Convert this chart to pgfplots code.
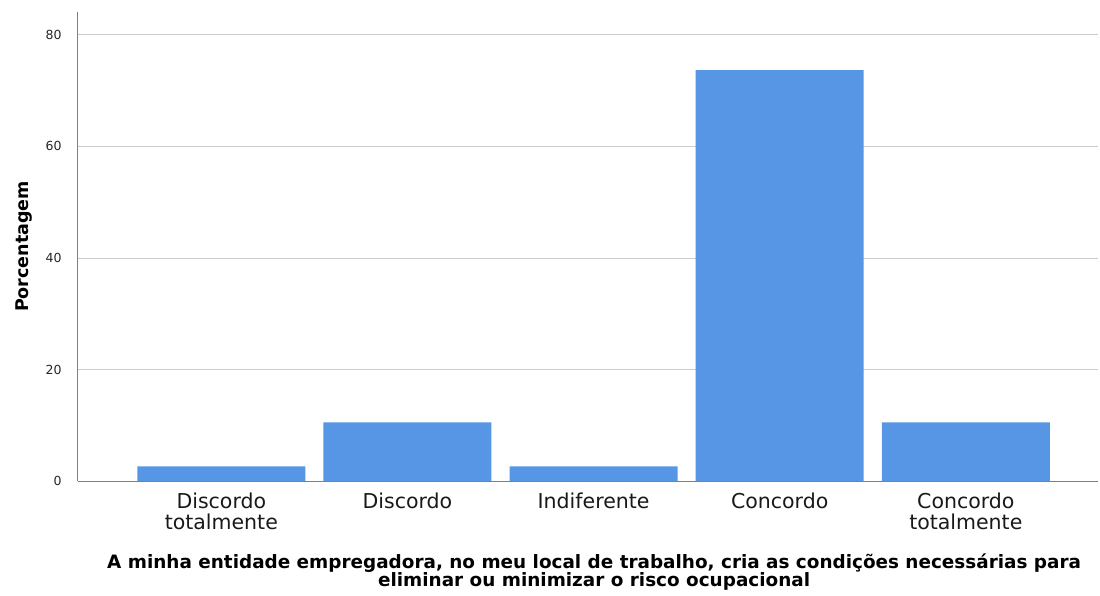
\documentclass[border=0pt]{standalone}
\usepackage{fontspec}
\setmainfont{DejaVu Sans}
\usepackage{pgfplots}
\pgfplotsset{compat=1.18}
\definecolor{barblue}{RGB}{86,150,229}
\begin{document}
\begin{tikzpicture}
\path[use as bounding box] (-78pt,-114pt) rectangle (1022pt,481pt);
\begin{axis}[
 scale only axis, width=1020pt, height=469pt,
 xmin=-0.77, xmax=4.71, ymin=0, ymax=84.1,
 axis x line*=bottom, axis y line*=left,
 axis line style={draw=black!50, line width=1pt, -},
 ytick={0,20,40,60,80}, ymajorgrids,
 grid style={draw=black!20, line width=0.8pt},
 xtick={0,1,2,3,4},
 xticklabels={{Discordo\\totalmente},{Discordo},{Indiferente},{Concordo},{Concordo\\totalmente}},
 major tick length=0pt,
 /pgf/number format/assume math mode=true,
 yticklabel style={font=\fontsize{12.5}{14}\selectfont, text=black!85, xshift=-13pt},
 xticklabel style={font=\fontsize{20.5}{21.5}\selectfont, align=center, anchor=north, yshift=-8pt, text=black!90},
 ylabel={Porcentagem},
 ylabel style={font=\fontsize{17.5}{20}\selectfont\bfseries, at={(axis description cs:-0.053,0.5)}, anchor=center},
 xlabel={A minha entidade empregadora, no meu local de trabalho, cria as condições necessárias para\\eliminar ou minimizar o risco ocupacional},
 xlabel style={font=\fontsize{18.4}{18.5}\selectfont\bfseries, align=center, at={(axis description cs:0.506,-0.194)}, anchor=center},
]
\addplot[ybar, bar width=168pt, fill=barblue, draw=none] coordinates {(0,2.63) (1,10.53) (2,2.63) (3,73.68) (4,10.53)};
\end{axis}
\end{tikzpicture}
\end{document}
